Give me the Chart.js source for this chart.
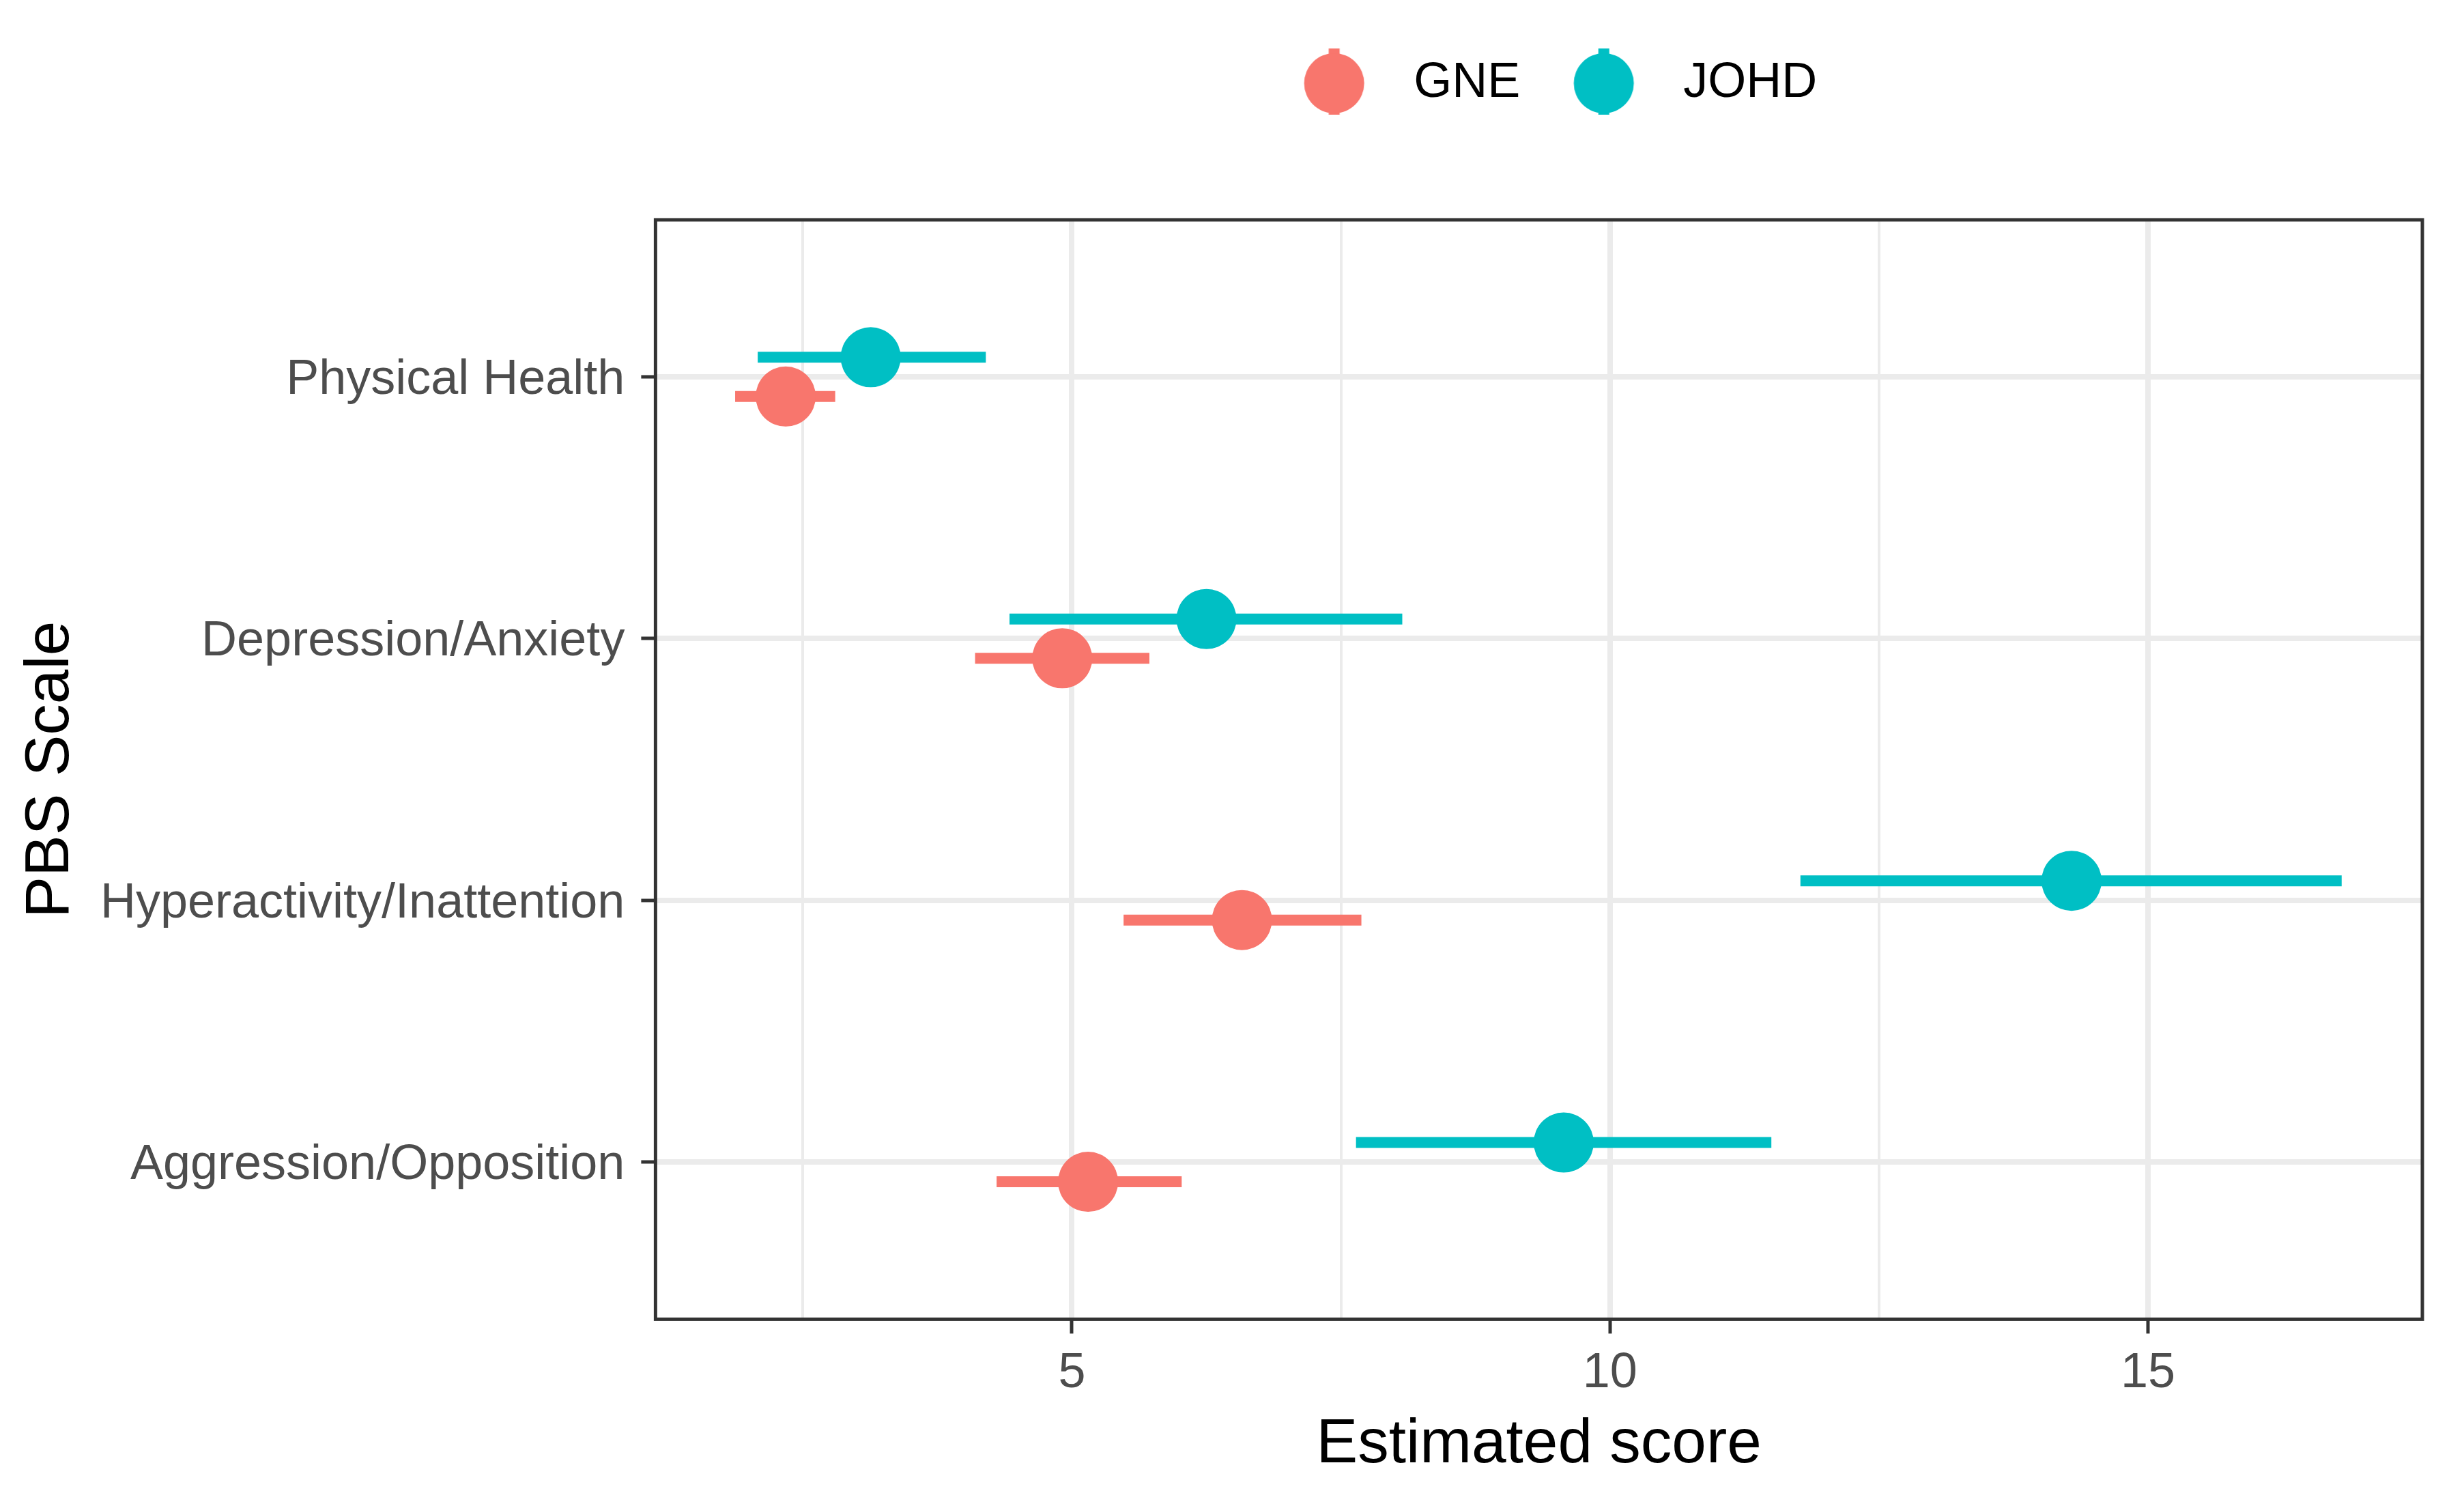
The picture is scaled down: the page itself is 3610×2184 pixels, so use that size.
<!DOCTYPE html>
<html>
<head>
<meta charset="utf-8">
<title>PBS Scale estimated scores</title>
<script src="https://cdn.jsdelivr.net/npm/chart.js@4/dist/chart.umd.min.js"></script>
<style>
  html, body { margin: 0; padding: 0; background: #ffffff; }
  #wrap { width: 3610px; height: 2184px; }
</style>
</head>
<body>
<div id="wrap"><canvas id="myChart"></canvas></div>
<script>
// data
let categories = ['Physical Health', 'Depression/Anxiety', 'Hyperactivity/Inattention', 'Aggression/Opposition'];
let groups = ['GNE', 'JOHD'];

let gneEstimate = [2.34, 4.91, 6.58, 5.15];
let gneLower = [1.87, 4.10, 5.48, 4.30];
let gneUpper = [2.80, 5.72, 7.69, 6.02];

let johdEstimate = [3.13, 6.25, 14.29, 9.57];
let johdLower = [2.08, 4.42, 11.77, 7.64];
let johdUpper = [4.20, 8.07, 16.80, 11.50];

let xTicks = [2.5, 5, 7.5, 10, 12.5, 15];
let xLabels = [5, 10, 15];
let xMin = 1.13;
let xMax = 17.55;

// look
const colors = { GNE: '#F8766D', JOHD: '#00BFC4' };
const fontFamily = "'Liberation Sans', Arial, sans-serif";
const dodge = 0.075;   // GNE below, JOHD above the category line
const pointRadius = 44;
const barWidth = 16;

//legend key: point with a vertical line through it, like ggplot's pointrange key
//drawn a bit right of the image centre so the key sits where ggplot puts it
function makeKey(color) {
  let c = document.createElement('canvas');
  c.width = 130;
  c.height = 120;
  let cx = 78.5;
  let g = c.getContext('2d');
  g.fillStyle = color;
  g.fillRect(cx - barWidth / 2, 2, barWidth, 116);
  g.beginPath();
  g.arc(cx, 60, pointRadius, 0, Math.PI * 2);
  g.fill();
  return c;
}

function yFor(i, group) {
  return i + 1 + (group === 'GNE' ? dodge : -dodge);
}

//build datasets
let datasets = [];
let series = {
  GNE: { est: gneEstimate, lo: gneLower, hi: gneUpper },
  JOHD: { est: johdEstimate, lo: johdLower, hi: johdUpper },
};

groups.forEach((name) => {
  let s = series[name];
  datasets.push({
    label: name,
    data: s.est.map((v, i) => ({ x: v, y: yFor(i, name) })),
    backgroundColor: colors[name],
    borderColor: colors[name],
    borderWidth: 0,
    pointRadius: pointRadius,
    pointHoverRadius: pointRadius,
    order: 1,
  });
  //one short line per error bar
  for (let i = 0; i < categories.length; i++) {
    datasets.push({
      label: name + ' interval',
      type: 'line',
      data: [{ x: s.lo[i], y: yFor(i, name) }, { x: s.hi[i], y: yFor(i, name) }],
      borderColor: colors[name],
      borderWidth: barWidth,
      borderCapStyle: 'butt',
      pointRadius: 0,
      fill: false,
      order: 2,
    });
  }
});

//panel border drawn over the data, like theme_bw
const panelBorder = {
  id: 'panelBorder',
  afterDatasetsDraw(chart) {
    const { ctx, chartArea } = chart;
    ctx.save();
    ctx.strokeStyle = '#333333';
    ctx.lineWidth = 5;
    ctx.strokeRect(chartArea.left, chartArea.top, chartArea.right - chartArea.left, chartArea.bottom - chartArea.top);
    ctx.restore();
  }
};

const ctx = document.getElementById('myChart').getContext('2d');

let options = {
  type: 'scatter',
  data: { datasets: datasets },
  options: {
    responsive: true,
    maintainAspectRatio: false,
    devicePixelRatio: 1,
    animation: false,
    events: [],
    layout: { padding: { top: 71, right: 61, bottom: 8, left: 10 } },
    plugins: {
      tooltip: { enabled: false },
      legend: {
        position: 'top',
        fullSize: false,
        labels: {
          usePointStyle: true,
          pointStyleWidth: 188,
          padding: 15,
          color: '#000000',
          font: { family: fontFamily, size: 72 },
          generateLabels(chart) {
            return groups.map((name) => ({
              text: name,
              pointStyle: makeKey(colors[name]),
              fillStyle: colors[name],
              strokeStyle: colors[name],
              lineWidth: 0,
              fontColor: '#000000',
              hidden: false,
              datasetIndex: chart.data.datasets.findIndex((d) => d.label === name),
            }));
          }
        }
      }
    },
    scales: {
      x: {
        type: 'linear',
        position: 'bottom',
        min: xMin,
        max: xMax,
        afterBuildTicks(scale) {
          scale.ticks = xTicks.map((v) => ({ value: v }));
        },
        grid: {
          color: '#EBEBEB',
          lineWidth: (c) => (c.tick && xLabels.includes(c.tick.value) ? 8 : 4),
          tickColor: (c) => (c.tick && xLabels.includes(c.tick.value) ? '#333333' : 'rgba(0,0,0,0)'),
          tickWidth: 5,
          tickLength: 21,
        },
        border: { display: false },
        ticks: {
          autoSkip: false,
          maxRotation: 0,
          padding: 16,
          color: '#4D4D4D',
          font: { family: fontFamily, size: 72 },
          callback: (v) => (xLabels.includes(v) ? String(v) : ''),
        },
        title: {
          display: true,
          text: 'Estimated score',
          color: '#000000',
          font: { family: fontFamily, size: 91 },
          padding: { top: -9, bottom: 4 },
        }
      },
      // empty axis on top, only there to leave room between legend and panel
      xTop: {
        type: 'linear',
        position: 'top',
        display: true,
        grid: { display: false },
        border: { display: false },
        ticks: { display: false },
        afterFit(scale) {
          scale.height = 154;
        }
      },
      y: {
        type: 'linear',
        position: 'left',
        reverse: true,
        min: 0.4,
        max: categories.length + 0.6,
        afterBuildTicks(scale) {
          scale.ticks = categories.map((c, i) => ({ value: i + 1 }));
        },
        grid: {
          color: '#EBEBEB',
          lineWidth: 8,
          tickColor: '#333333',
          tickWidth: 5,
          tickLength: 21,
        },
        border: { display: false },
        ticks: {
          autoSkip: false,
          padding: 24,
          labelOffset: 5,
          color: '#4D4D4D',
          font: { family: fontFamily, size: 72 },
          callback: (v, i) => categories[i],
        },
        title: {
          display: true,
          text: 'PBS Scale',
          color: '#000000',
          font: { family: fontFamily, size: 91, lineHeight: 1 },
          padding: { top: 19, bottom: 3 },
        }
      }
    }
  },
  plugins: [panelBorder]
};

const myChart = new Chart(ctx, options);
</script>
</body>
</html>
